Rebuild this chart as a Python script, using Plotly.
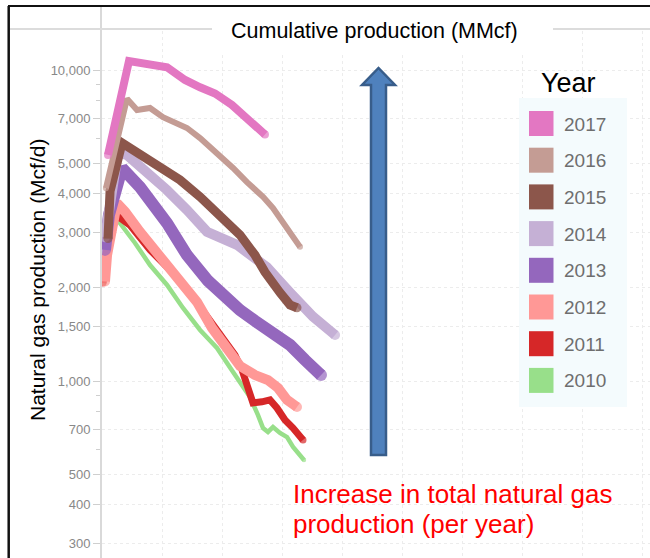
import plotly.graph_objects as go

# ---------------- data ----------------
years = ["2017", "2016", "2015", "2014", "2013", "2012", "2011", "2010"]
colors = ["#e377c2", "#c49c94", "#8c564b", "#c5b0d5", "#9467bd", "#ff9896", "#d62728", "#98df8a"]

x_2017 = [50, 225, 542, 692, 817, 942, 1083, 1233, 1358]
y_2017 = [5330, 10690, 10200, 9290, 8800, 8400, 7720, 6900, 6200]

x_2016 = [33, 208, 292, 400, 508, 708, 817, 958, 1092, 1208, 1342, 1425, 1542, 1650]
y_2016 = [4170, 8090, 7440, 7550, 7050, 6510, 6040, 5410, 4840, 4360, 3910, 3600, 3130, 2700]

x_2015 = [50, 67, 167, 342, 483, 650, 817, 983, 1150, 1275, 1358, 1483, 1567, 1625]
y_2015 = [2870, 4080, 5830, 5240, 4870, 4430, 3910, 3420, 2950, 2540, 2240, 1925, 1756, 1720]

x_2014 = [25, 67, 133, 208, 375, 542, 708, 875, 1125, 1375, 1567, 1758, 1942]
y_2014 = [2900, 3820, 5430, 5330, 4700, 4110, 3550, 3020, 2740, 2320, 1925, 1610, 1406]

x_2013 = [25, 58, 167, 317, 542, 708, 883, 1025, 1150, 1275, 1425, 1567, 1692, 1775, 1825]
y_2013 = [2640, 3420, 4840, 4200, 3220, 2540, 2100, 1850, 1690, 1560, 1440, 1306, 1168, 1077, 1045]

x_2012 = [25, 42, 125, 192, 317, 483, 650, 792, 917, 1042, 1150, 1275, 1383, 1467, 1542, 1625]
y_2012 = [2090, 2540, 3735, 3500, 3014, 2523, 2113, 1795, 1481, 1277, 1117, 1045, 1007, 950, 869, 825]

x_2011 = [8, 33, 117, 233, 400, 567, 733, 900, 1025, 1108, 1167, 1217, 1258, 1333, 1400, 1458, 1525, 1592, 1650, 1675]
y_2011 = [2066, 2450, 3420, 3170, 2640, 2275, 1920, 1571, 1335, 1212, 1085, 936, 850, 857, 869, 819, 749, 706, 656, 646]

x_2010 = [17, 117, 275, 400, 542, 675, 817, 958, 1092, 1233, 1300, 1342, 1383, 1425, 1483, 1542, 1592, 1633, 1683]
y_2010 = [2066, 3343, 2778, 2360, 2036, 1717, 1459, 1277, 1069, 888, 777, 706, 686, 711, 681, 660, 614, 587, 557]

series_x = [x_2017, x_2016, x_2015, x_2014, x_2013, x_2012, x_2011, x_2010]
series_y = [y_2017, y_2016, y_2015, y_2014, y_2013, y_2012, y_2011, y_2010]

tick_vals = [300, 400, 500, 700, 1000, 1500, 2000, 3000, 4000, 5000, 7000, 10000]
tick_text = ["300", "400", "500", "700", "1,000", "1,500", "2,000", "3,000", "4,000", "5,000", "7,000", "10,000"]
minor_vals = [600, 800, 900, 6000, 8000, 9000]

# ---------------- styles ----------------
widths = [8, 6, 9, 10, 12, 10, 7, 4.5]
FONT = "Liberation Sans, Arial, sans-serif"
W, H = 650, 558
L, T = 102, 7
PW, PH = W - L, H - T


def px(xp):
    return (xp - L) / PW


def py(yp):
    return (H - yp) / PH


fig = go.Figure()
# draw oldest first so newer years sit on top
for i in reversed(range(len(years))):
    n = len(series_x[i])
    cap_sizes = [widths[i] if k in (0, n - 1) else 0 for k in range(n)]
    fig.add_trace(go.Scatter(
        x=series_x[i], y=series_y[i], mode="lines+markers", name=years[i],
        line=dict(color=colors[i], width=widths[i]),
        marker=dict(color=colors[i], size=cap_sizes, line=dict(width=0)),
        showlegend=False, hoverinfo="skip"))

shapes = []
# white covers for header area
shapes.append(dict(type="rect", xref="paper", yref="paper", x0=px(103.5), x1=px(650), y0=py(31), y1=py(7),
                   fillcolor="white", line=dict(width=0), layer="above"))
shapes.append(dict(type="rect", xref="paper", yref="paper", x0=px(212), x1=px(553), y0=py(52), y1=py(7),
                   fillcolor="white", line=dict(width=0), layer="above"))
# header separator lines
shapes.append(dict(type="line", xref="paper", yref="paper", x0=px(9), x1=px(212), y0=py(29), y1=py(29),
                   line=dict(color="#dcdcdc", width=2), layer="above"))
shapes.append(dict(type="line", xref="paper", yref="paper", x0=px(553), x1=px(650), y0=py(29), y1=py(29),
                   line=dict(color="#dcdcdc", width=2), layer="above"))
# frame
shapes.append(dict(type="line", xref="paper", yref="paper", x0=px(8), x1=px(650), y0=py(6), y1=py(6),
                   line=dict(color="#111111", width=2), layer="above"))
shapes.append(dict(type="line", xref="paper", yref="paper", x0=px(8.7), x1=px(8.7), y0=py(558), y1=py(6),
                   line=dict(color="#111111", width=2.5), layer="above"))

# arrow
ax_c, ax_hw, head_hw = 378.5, 7.5, 16.5
ax_bot, head_base, tip = 455, 85, 68
pts = [(ax_c - ax_hw, ax_bot), (ax_c - ax_hw, head_base), (ax_c - head_hw, head_base), (ax_c, tip),
       (ax_c + head_hw, head_base), (ax_c + ax_hw, head_base), (ax_c + ax_hw, ax_bot)]
path = "M " + " L ".join(f"{px(a):.5f},{py(b):.5f}" for a, b in pts) + " Z"
shapes.append(dict(type="path", xref="paper", yref="paper", path=path,
                   fillcolor="#4f81bd", line=dict(color="#385d8a", width=2.5), layer="above"))

# legend box
shapes.append(dict(type="rect", xref="paper", yref="paper", x0=px(519), x1=px(627), y0=py(407), y1=py(98),
                   fillcolor="#f4fbfd", line=dict(width=0), layer="above"))
annotations = []
pitch = 36.7
for i, yr in enumerate(years):
    top = 111 + i * pitch
    shapes.append(dict(type="rect", xref="paper", yref="paper", x0=px(529), x1=px(553.5),
                       y0=py(top + 25), y1=py(top), fillcolor=colors[i], line=dict(width=0), layer="above"))
    annotations.append(dict(xref="paper", yref="paper", x=px(562), y=py(top + 13), text=yr, showarrow=False,
                            xanchor="left", yanchor="middle",
                            font=dict(family=FONT, size=19, color="#6e6e6e")))

annotations.append(dict(xref="paper", yref="paper", x=px(568), y=py(83), text="Year", showarrow=False,
                        xanchor="center", yanchor="middle", font=dict(family=FONT, size=27, color="black")))
annotations.append(dict(xref="paper", yref="paper", x=px(374.5), y=py(31), text="Cumulative production (MMcf)",
                        showarrow=False, xanchor="center", yanchor="middle",
                        font=dict(family=FONT, size=21.5, color="black")))
annotations.append(dict(xref="paper", yref="paper", x=px(37), y=py(280), text="Natural gas production (Mcf/d)",
                        showarrow=False, textangle=-90, xanchor="center", yanchor="middle",
                        font=dict(family=FONT, size=21, color="black")))
annotations.append(dict(xref="paper", yref="paper", x=px(291), y=py(494), text="Increase in total natural gas",
                        showarrow=False, xanchor="left", yanchor="middle",
                        font=dict(family=FONT, size=26, color="#ff0000")))
annotations.append(dict(xref="paper", yref="paper", x=px(291), y=py(524), text="production (per year)",
                        showarrow=False, xanchor="left", yanchor="middle",
                        font=dict(family=FONT, size=26, color="#ff0000")))

fig.update_layout(
    width=W, height=H,
    margin=dict(l=L, r=0, t=T, b=0, pad=0),
    paper_bgcolor="white", plot_bgcolor="white",
    font=dict(family=FONT),
    showlegend=False,
    xaxis=dict(range=[0, PW * 25 / 3], showticklabels=False, ticks="", tick0=0, dtick=500,
               showgrid=True, gridcolor="#ececec", griddash="dot", gridwidth=1,
               zeroline=False, showline=False, fixedrange=True),
    yaxis=dict(type="log", range=[4 - (H - 70) / 311, 4 + (70 - T) / 311],
               tickmode="array", tickvals=tick_vals, ticktext=tick_text,
               ticks="outside", ticklen=7, tickcolor="#cfcfcf", tickwidth=1,
               tickfont=dict(family=FONT, size=13, color="#888888"),
               showline=True, linecolor="#d9d9d9", linewidth=2,
               showgrid=True, gridcolor="#ececec", griddash="dot", gridwidth=1,
               zeroline=False, automargin=False,
               minor=dict(tickmode="array", tickvals=minor_vals, ticks="outside", ticklen=4,
                          tickcolor="#cfcfcf", showgrid=False)),
    shapes=shapes,
    annotations=annotations,
)

fig.write_html("out.html")
